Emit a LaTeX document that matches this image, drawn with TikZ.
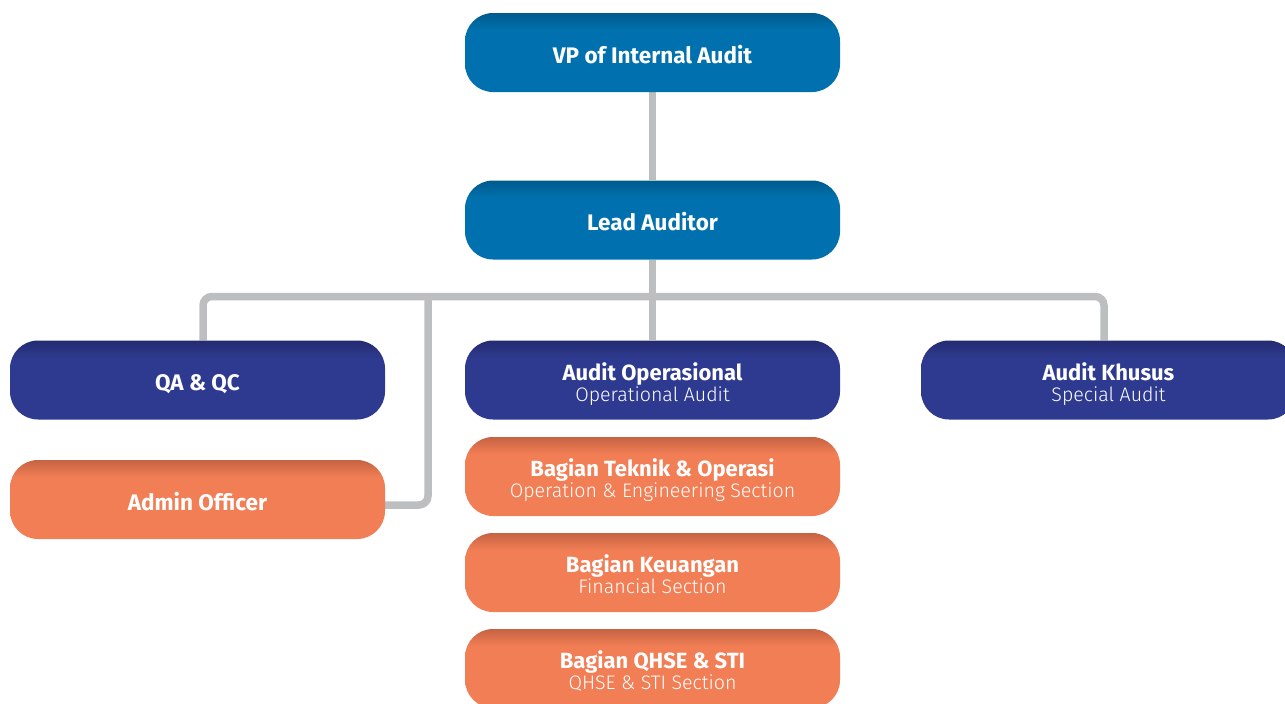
\documentclass[tikz,border=0pt]{standalone}
\usepackage{fontspec}
\setmainfont{Fira Sans}
\newfontfamily\lightfont{Fira Sans Light}
\usetikzlibrary{calc,backgrounds}

\definecolor{blueM}{HTML}{0071AE}
\definecolor{blueD}{HTML}{005A8C}
\definecolor{navyM}{HTML}{2E3A8F}
\definecolor{navyD}{HTML}{232B70}
\definecolor{orangeM}{HTML}{F27E55}
\definecolor{orangeD}{HTML}{C66343}
\definecolor{lineGray}{HTML}{BDBEC0}

\pgfdeclareverticalshading{blueshade}{100bp}{color(0bp)=(blueM); color(25bp)=(blueM); color(64bp)=(blueM); color(75bp)=(blueD); color(100bp)=(blueD)}
\pgfdeclareverticalshading{navyshade}{100bp}{color(0bp)=(navyM); color(25bp)=(navyM); color(64bp)=(navyM); color(75bp)=(navyD); color(100bp)=(navyD)}
\pgfdeclareverticalshading{orangeshade}{100bp}{color(0bp)=(orangeM); color(25bp)=(orangeM); color(64bp)=(orangeM); color(75bp)=(orangeD); color(100bp)=(orangeD)}

% bold head line, light second line
\newcommand{\boxtitle}[2]{{\bfseries\rule{0pt}{26pt}#1}\\[-2pt]{\lightfont\fontsize{19.6}{21}\selectfont #2\rule[-5pt]{0pt}{5pt}}}

\begin{document}
\begin{tikzpicture}[x=1pt,y=-1pt]
	\tikzstyle{unit}=[rectangle, rounded corners=28pt, minimum width=375pt, minimum height=79pt, inner sep=0pt,
		align=center, text=white, font=\fontsize{22}{23}\selectfont]
	\tikzstyle{single}=[text height=21pt, text depth=0pt, font=\fontsize{22.5}{23}\selectfont\bfseries]
	\tikzstyle{topbox}=[unit, shading=blueshade]
	\tikzstyle{deptbox}=[unit, shading=navyshade]
	\tikzstyle{secbox}=[unit, shading=orangeshade]
	\tikzstyle{conn}=[lineGray, line width=7.5pt, rounded corners=9pt]

	\useasboundingbox (0,0) rectangle (1285,704);

	% boxes
	\node (VP) [topbox, single] at (652.5,52.5) {VP of Internal Audit};
	\node (LA) [topbox, single] at (652.5,220) {Lead Auditor};

	\node (QA) [deptbox, single] at (197.5,380) {QA \& QC};
	\node (AD) [deptbox] at (652.5,380) {\boxtitle{Audit Operasional}{Operational Audit}};
	\node (AK) [deptbox] at (1108.5,380) {\boxtitle{Audit Khusus}{Special Audit}};

	\node (AO) [secbox, single] at (197.5,499.5) {Admin Officer};
	\node (BT) [secbox] at (652.5,476.5) {\boxtitle{Bagian Teknik \& Operasi}{Operation \& Engineering Section}};
	\node (BK) [secbox] at (652.5,572.5) {\boxtitle{Bagian Keuangan}{Financial Section}};
	\node (BQ) [secbox] at (652.5,668.5) {\boxtitle{Bagian QHSE \& STI}{QHSE \& STI Section}};

	\coordinate (busR) at (1104,296.5);
	\coordinate (busA) at (428,296.5);

	% connectors
	\begin{scope}[on background layer]
		\draw [conn] (VP) -- (LA);
		\draw [conn] (LA) -- (AD);
		\draw [conn] ($(QA.north)+(5.5,0)$) |- (busR) -- (AK.north -| busR);
		\draw [conn] (busA) |- ($(AO.east)+(0,5.5)$);
	\end{scope}
\end{tikzpicture}
\end{document}
